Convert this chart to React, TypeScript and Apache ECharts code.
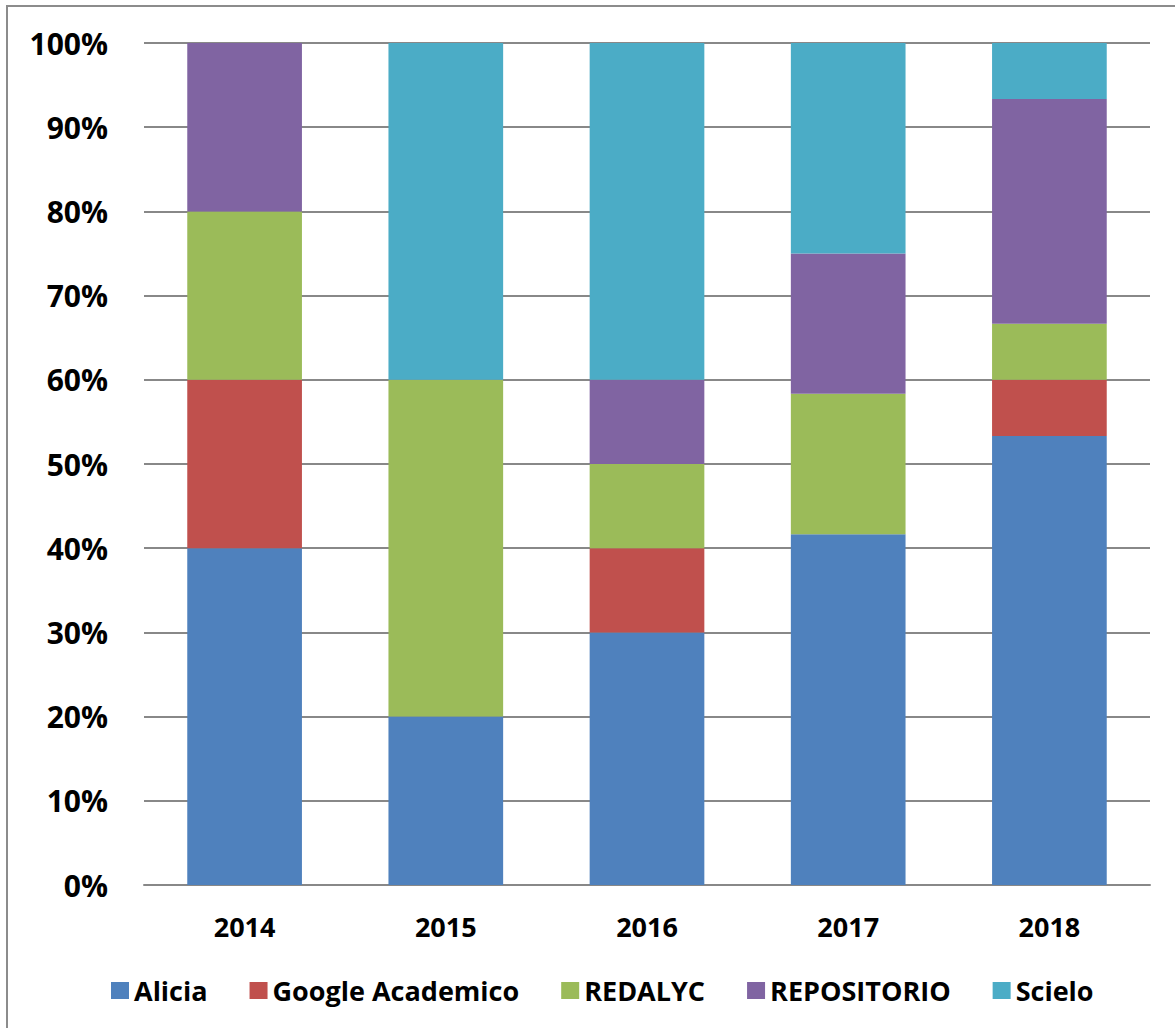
import React, { useEffect, useRef } from "react";
import * as echarts from "echarts";

const years = ["2014", "2015", "2016", "2017", "2018"];
const seriesNames = ["Alicia", "Google Academico", "REDALYC", "REPOSITORIO", "Scielo"];
const alicia = [40, 20, 30, 41.67, 53.33];
const google = [20, 0, 10, 0, 6.67];
const redalyc = [20, 40, 10, 16.67, 6.67];
const repositorio = [20, 0, 10, 16.67, 26.67];
const scielo = [0, 40, 40, 25, 6.67];
const colors = ["#4F81BD", "#C0504D", "#9BBB59", "#8064A2", "#4BACC6"];
const yTicks = [0, 10, 20, 30, 40, 50, 60, 70, 80, 90, 100];

const FONT = "'Open Sans', 'Noto Sans', sans-serif";

export default function App() {
  const ref = useRef<HTMLDivElement>(null);
  useEffect(() => {
    if (!ref.current) return;
    const chart = echarts.init(ref.current, null, { renderer: "svg" });
    const values = [alicia, google, redalyc, repositorio, scielo];
    chart.setOption({
      animation: false,
      color: colors,
      graphic: [
        {
          type: "rect",
          shape: { x: 7, y: 6, width: 1200, height: 1060 },
          style: { fill: "none", stroke: "#8c8c8c", lineWidth: 2 },
          silent: true,
        },
      ],
      grid: { left: 144, right: 25, top: 43, bottom: 143 },
      legend: {
        top: 972,
        left: 106,
        itemWidth: 18,
        itemHeight: 17,
        itemGap: 42,
        icon: "rect",
        data: seriesNames,
        textStyle: { fontSize: 27, fontWeight: "bold", color: "#000", fontFamily: FONT },
      },
      xAxis: {
        type: "category",
        data: years,
        axisTick: { show: false },
        axisLine: { show: true, lineStyle: { color: "#888", width: 2 } },
        axisLabel: { fontSize: 27, fontWeight: "bold", color: "#000", fontFamily: FONT, margin: 28 },
      },
      yAxis: {
        type: "value",
        min: 0,
        max: 100,
        interval: 10,
        axisLine: { show: false },
        axisTick: { show: false },
        splitLine: { lineStyle: { color: "#888", width: 2 } },
        axisLabel: {
          fontSize: 30,
          fontWeight: "bold",
          color: "#000",
          fontFamily: FONT,
          margin: 36,
          formatter: (v: number) => (yTicks.includes(v) ? v + "%" : ""),
        },
      },
      series: seriesNames.map((name, i) => ({
        name,
        type: "bar",
        stack: "total",
        barWidth: "57%",
        data: values[i],
        itemStyle: { color: colors[i] },
      })),
    });
    return () => chart.dispose();
  }, []);
  return (
    <div
      ref={ref}
      style={{ position: "absolute", left: 0, top: 0, width: 1175, height: 1028 }}
    />
  );
}
